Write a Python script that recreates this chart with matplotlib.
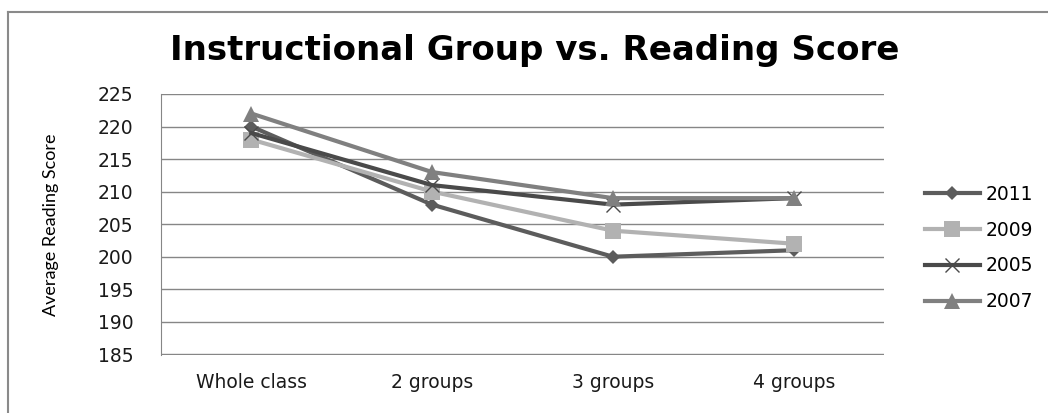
import matplotlib
matplotlib.use("Agg")
import matplotlib.pyplot as plt
from matplotlib.lines import Line2D

groups = ["Whole class", "2 groups", "3 groups", "4 groups"]
years = ["2011", "2009", "2005", "2007"]
score_2011 = [220, 208, 200, 201]
score_2009 = [218, 210, 204, 202]
score_2005 = [219, 211, 208, 209]
score_2007 = [222, 213, 209, 209]
y_ticks = [185, 190, 195, 200, 205, 210, 215, 220, 225]

series = [score_2011, score_2009, score_2005, score_2007]
colors = ["#5c5c5c", "#b2b2b2", "#4a4a4a", "#808080"]
markers = ["D", "s", "x", "^"]
msizes = [7, 11, 10, 11]

fig = plt.figure(figsize=(10.48, 4.13), dpi=100)
ax = fig.add_axes([0.1536, 0.1404, 0.69, 0.632])

x = range(len(groups))
for vals, name, c, m, ms in zip(series, years, colors, markers, msizes):
    ax.plot(x, vals, color=c, lw=3, marker=m, markersize=ms,
            markeredgewidth=1 if m == "x" else 0, markeredgecolor=c,
            label=name)

ax.set_xlim(-0.5, 3.5)
ax.set_ylim(184.9, 225)
ax.set_yticks(y_ticks)
ax.set_xticks(list(x))
ax.set_xticklabels(groups)
ax.tick_params(length=0, labelsize=13.5, colors="#1a1a1a", pad=13)
ax.tick_params(axis="y", pad=20)
ax.grid(axis="y", color="#868686", lw=1)
for s in ["top", "right", "bottom"]:
    ax.spines[s].set_visible(False)
ax.spines["left"].set_color("#868686")
ax.set_axisbelow(True)

ax.set_ylabel("Average Reading Score", fontsize=13, family="Lato")
ax.yaxis.set_label_coords(-0.141, 0.5)
fig.text(0.51, 0.878, "Instructional Group vs. Reading Score", ha="center",
         va="center", fontsize=24.5, fontweight="bold", family="DejaVu Sans")

ax.legend(loc="center left", bbox_to_anchor=(1.057, 0.41), frameon=False,
          borderpad=0, borderaxespad=0, fontsize=13.5, handlelength=2.9,
          labelspacing=0.9, handletextpad=0.3)

# outer chart border (top and left are visible in the crop)
fig.add_artist(Line2D([8 / 1048, 1], [1 - 12 / 413, 1 - 12 / 413], color="#8a8a8a", lw=1.5))
fig.add_artist(Line2D([8 / 1048, 8 / 1048], [0, 1 - 12 / 413], color="#8a8a8a", lw=1.5))

fig.savefig("out.png", dpi=100)
